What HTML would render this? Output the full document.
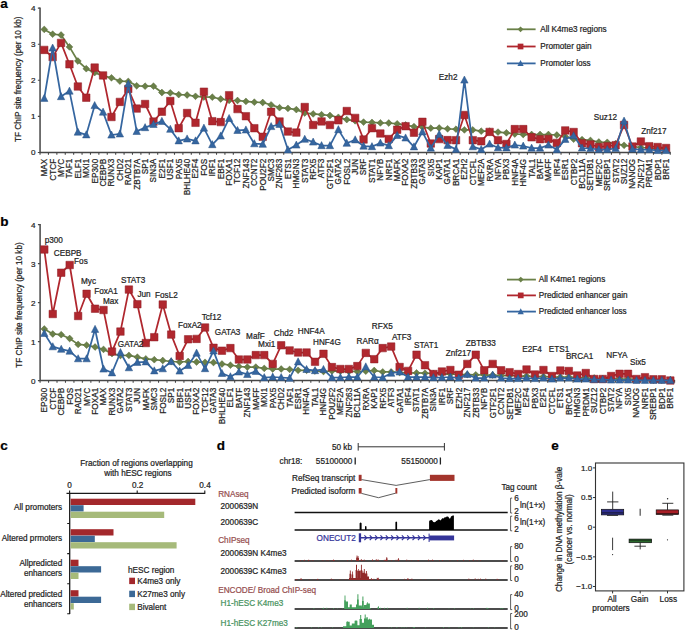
<!DOCTYPE html><html><head><meta charset="utf-8"><style>html,body{margin:0;padding:0;background:#fff;}svg{display:block;font-family:"Liberation Sans",sans-serif;}text{stroke:#1e1e1e;stroke-width:0.22px;}</style></head><body>
<svg width="685" height="632" viewBox="0 0 685 632">
<rect width="685" height="632" fill="#fff"/>
<g font-size="8.2" fill="#1e1e1e">
<text x="0.3" y="7.5" font-size="13.5" fill="#000" style="stroke:#000" font-weight="bold">a</text>
<path d="M40.05 7.6V152.5H670.77" fill="none" stroke="#474747" stroke-width="1.5"/>
<text x="35.55" y="155.4" font-size="8.1" text-anchor="end">0</text>
<text x="35.55" y="119.3" font-size="8.1" text-anchor="end">1</text>
<text x="35.55" y="83.2" font-size="8.1" text-anchor="end">2</text>
<text x="35.55" y="47.1" font-size="8.1" text-anchor="end">3</text>
<text x="35.55" y="11" font-size="8.1" text-anchor="end">4</text>
<path d="M37.85 152.5H40.05M37.85 116.4H40.05M37.85 80.3H40.05M37.85 44.2H40.05M37.85 8.1H40.05M40.05 152.5v2.2M48.45 152.5v2.2M56.86 152.5v2.2M65.26 152.5v2.2M73.66 152.5v2.2M82.06 152.5v2.2M90.47 152.5v2.2M98.87 152.5v2.2M107.27 152.5v2.2M115.68 152.5v2.2M124.08 152.5v2.2M132.48 152.5v2.2M140.89 152.5v2.2M149.29 152.5v2.2M157.69 152.5v2.2M166.09 152.5v2.2M174.5 152.5v2.2M182.9 152.5v2.2M191.3 152.5v2.2M199.71 152.5v2.2M208.11 152.5v2.2M216.51 152.5v2.2M224.92 152.5v2.2M233.32 152.5v2.2M241.72 152.5v2.2M250.12 152.5v2.2M258.53 152.5v2.2M266.93 152.5v2.2M275.33 152.5v2.2M283.74 152.5v2.2M292.14 152.5v2.2M300.54 152.5v2.2M308.95 152.5v2.2M317.35 152.5v2.2M325.75 152.5v2.2M334.16 152.5v2.2M342.56 152.5v2.2M350.96 152.5v2.2M359.36 152.5v2.2M367.77 152.5v2.2M376.17 152.5v2.2M384.57 152.5v2.2M392.98 152.5v2.2M401.38 152.5v2.2M409.78 152.5v2.2M418.19 152.5v2.2M426.59 152.5v2.2M434.99 152.5v2.2M443.39 152.5v2.2M451.8 152.5v2.2M460.2 152.5v2.2M468.6 152.5v2.2M477.01 152.5v2.2M485.41 152.5v2.2M493.81 152.5v2.2M502.22 152.5v2.2M510.62 152.5v2.2M519.02 152.5v2.2M527.42 152.5v2.2M535.83 152.5v2.2M544.23 152.5v2.2M552.63 152.5v2.2M561.04 152.5v2.2M569.44 152.5v2.2M577.84 152.5v2.2M586.25 152.5v2.2M594.65 152.5v2.2M603.05 152.5v2.2M611.45 152.5v2.2M619.86 152.5v2.2M628.26 152.5v2.2M636.66 152.5v2.2M645.07 152.5v2.2M653.47 152.5v2.2M661.87 152.5v2.2M670.27 152.5v2.2" stroke="#474747" stroke-width="1.1"/>
<polyline points="44.25,29.4 52.65,34.2 61.06,35 69.46,46.9 77.86,61 86.27,68.7 94.67,72.6 103.07,75.9 111.47,77.8 119.88,81.1 128.28,81.4 136.68,85.8 145.09,86.2 153.49,86.2 161.89,92.5 170.3,92.8 178.7,94.6 187.1,95 195.5,96.3 203.91,97 212.31,97.2 220.71,99 229.12,100.4 237.52,100.5 245.92,101.4 254.33,102.2 262.73,102.5 271.13,104.9 279.53,107.7 287.94,108.4 296.34,109.6 304.74,113 313.15,113.9 321.55,114.7 329.95,115.5 338.36,117.3 346.76,119.6 355.16,120.8 363.56,122.1 371.97,122.4 380.37,122.9 388.77,123 397.18,123.8 405.58,125 413.98,126.6 422.39,127.2 430.79,128.2 439.19,128 447.59,128.8 456,129.2 464.4,129.9 472.8,129.9 481.21,131.2 489.61,131.2 498.01,132.1 506.42,132.8 514.82,134 523.22,134.5 531.62,134.5 540.03,134.5 548.43,134.5 556.83,135 565.24,136.5 573.64,139.2 582.04,139.6 590.45,140.4 598.85,142 607.25,142.3 615.65,143.6 624.06,145.3 632.46,146.5 640.86,147.5 649.27,148 657.67,148.5 666.07,149" fill="none" stroke="#6a8048" stroke-width="1.75" stroke-linejoin="round"/>
<path d="M44.25 26L47.65 29.4L44.25 32.8L40.85 29.4ZM52.65 30.8L56.05 34.2L52.65 37.6L49.25 34.2ZM61.06 31.6L64.46 35L61.06 38.4L57.66 35ZM69.46 43.5L72.86 46.9L69.46 50.3L66.06 46.9ZM77.86 57.6L81.26 61L77.86 64.4L74.46 61ZM86.27 65.3L89.67 68.7L86.27 72.1L82.86 68.7ZM94.67 69.2L98.07 72.6L94.67 76L91.27 72.6ZM103.07 72.5L106.47 75.9L103.07 79.3L99.67 75.9ZM111.47 74.4L114.87 77.8L111.47 81.2L108.07 77.8ZM119.88 77.7L123.28 81.1L119.88 84.5L116.48 81.1ZM128.28 78L131.68 81.4L128.28 84.8L124.88 81.4ZM136.68 82.4L140.08 85.8L136.68 89.2L133.28 85.8ZM145.09 82.8L148.49 86.2L145.09 89.6L141.69 86.2ZM153.49 82.8L156.89 86.2L153.49 89.6L150.09 86.2ZM161.89 89.1L165.29 92.5L161.89 95.9L158.49 92.5ZM170.3 89.4L173.7 92.8L170.3 96.2L166.9 92.8ZM178.7 91.2L182.1 94.6L178.7 98L175.3 94.6ZM187.1 91.6L190.5 95L187.1 98.4L183.7 95ZM195.5 92.9L198.9 96.3L195.5 99.7L192.1 96.3ZM203.91 93.6L207.31 97L203.91 100.4L200.51 97ZM212.31 93.8L215.71 97.2L212.31 100.6L208.91 97.2ZM220.71 95.6L224.11 99L220.71 102.4L217.31 99ZM229.12 97L232.52 100.4L229.12 103.8L225.72 100.4ZM237.52 97.1L240.92 100.5L237.52 103.9L234.12 100.5ZM245.92 98L249.32 101.4L245.92 104.8L242.52 101.4ZM254.33 98.8L257.73 102.2L254.33 105.6L250.93 102.2ZM262.73 99.1L266.13 102.5L262.73 105.9L259.33 102.5ZM271.13 101.5L274.53 104.9L271.13 108.3L267.73 104.9ZM279.53 104.3L282.93 107.7L279.53 111.1L276.13 107.7ZM287.94 105L291.34 108.4L287.94 111.8L284.54 108.4ZM296.34 106.2L299.74 109.6L296.34 113L292.94 109.6ZM304.74 109.6L308.14 113L304.74 116.4L301.34 113ZM313.15 110.5L316.55 113.9L313.15 117.3L309.75 113.9ZM321.55 111.3L324.95 114.7L321.55 118.1L318.15 114.7ZM329.95 112.1L333.35 115.5L329.95 118.9L326.55 115.5ZM338.36 113.9L341.75 117.3L338.36 120.7L334.96 117.3ZM346.76 116.2L350.16 119.6L346.76 123L343.36 119.6ZM355.16 117.4L358.56 120.8L355.16 124.2L351.76 120.8ZM363.56 118.7L366.96 122.1L363.56 125.5L360.16 122.1ZM371.97 119L375.37 122.4L371.97 125.8L368.57 122.4ZM380.37 119.5L383.77 122.9L380.37 126.3L376.97 122.9ZM388.77 119.6L392.17 123L388.77 126.4L385.37 123ZM397.18 120.4L400.58 123.8L397.18 127.2L393.78 123.8ZM405.58 121.6L408.98 125L405.58 128.4L402.18 125ZM413.98 123.2L417.38 126.6L413.98 130L410.58 126.6ZM422.39 123.8L425.79 127.2L422.39 130.6L418.99 127.2ZM430.79 124.8L434.19 128.2L430.79 131.6L427.39 128.2ZM439.19 124.6L442.59 128L439.19 131.4L435.79 128ZM447.59 125.4L450.99 128.8L447.59 132.2L444.19 128.8ZM456 125.8L459.4 129.2L456 132.6L452.6 129.2ZM464.4 126.5L467.8 129.9L464.4 133.3L461 129.9ZM472.8 126.5L476.2 129.9L472.8 133.3L469.4 129.9ZM481.21 127.8L484.61 131.2L481.21 134.6L477.81 131.2ZM489.61 127.8L493.01 131.2L489.61 134.6L486.21 131.2ZM498.01 128.7L501.41 132.1L498.01 135.5L494.61 132.1ZM506.42 129.4L509.81 132.8L506.42 136.2L503.02 132.8ZM514.82 130.6L518.22 134L514.82 137.4L511.42 134ZM523.22 131.1L526.62 134.5L523.22 137.9L519.82 134.5ZM531.62 131.1L535.02 134.5L531.62 137.9L528.22 134.5ZM540.03 131.1L543.43 134.5L540.03 137.9L536.63 134.5ZM548.43 131.1L551.83 134.5L548.43 137.9L545.03 134.5ZM556.83 131.6L560.23 135L556.83 138.4L553.43 135ZM565.24 133.1L568.64 136.5L565.24 139.9L561.84 136.5ZM573.64 135.8L577.04 139.2L573.64 142.6L570.24 139.2ZM582.04 136.2L585.44 139.6L582.04 143L578.64 139.6ZM590.45 137L593.85 140.4L590.45 143.8L587.05 140.4ZM598.85 138.6L602.25 142L598.85 145.4L595.45 142ZM607.25 138.9L610.65 142.3L607.25 145.7L603.85 142.3ZM615.65 140.2L619.05 143.6L615.65 147L612.25 143.6ZM624.06 141.9L627.46 145.3L624.06 148.7L620.66 145.3ZM632.46 143.1L635.86 146.5L632.46 149.9L629.06 146.5ZM640.86 144.1L644.26 147.5L640.86 150.9L637.46 147.5ZM649.27 144.6L652.67 148L649.27 151.4L645.87 148ZM657.67 145.1L661.07 148.5L657.67 151.9L654.27 148.5ZM666.07 145.6L669.47 149L666.07 152.4L662.67 149Z" fill="#6a8048" stroke="#56693a" stroke-width="0.5"/>
<polyline points="44.25,49.9 52.65,57.1 61.06,42.9 69.46,64.3 77.86,86.5 86.27,97.7 94.67,67.6 103.07,75.4 111.47,117 119.88,101.9 128.28,89 136.68,108.6 145.09,104 153.49,121.6 161.89,111.7 170.3,101 178.7,128.2 187.1,113 195.5,122.8 203.91,91.7 212.31,121.2 220.71,122.1 229.12,95.2 237.52,109.1 245.92,116.2 254.33,128.2 262.73,136.8 271.13,111.8 279.53,121.5 287.94,131.6 296.34,132.6 304.74,107 313.15,125 321.55,121.4 329.95,125 338.36,120.3 346.76,111 355.16,117.9 363.56,139.5 371.97,128.2 380.37,133.5 388.77,139 397.18,129.7 405.58,126.2 413.98,132.7 422.39,121.8 430.79,143.5 439.19,139.1 447.59,140.1 456,140.2 464.4,115 472.8,140.2 481.21,141.3 489.61,131.9 498.01,140.2 506.42,144 514.82,129.1 523.22,129.1 531.62,137.3 540.03,139.2 548.43,138.9 556.83,142.9 565.24,130.4 573.64,132 582.04,143.2 590.45,144.5 598.85,147 607.25,146.2 615.65,145.2 624.06,125 632.46,146.5 640.86,141.5 649.27,146.2 657.67,147 666.07,148" fill="none" stroke="#b0272e" stroke-width="1.75" stroke-linejoin="round"/>
<path d="M40.5 46.15h7.5v7.5h-7.5ZM48.9 53.35h7.5v7.5h-7.5ZM57.31 39.15h7.5v7.5h-7.5ZM65.71 60.55h7.5v7.5h-7.5ZM74.11 82.75h7.5v7.5h-7.5ZM82.52 93.95h7.5v7.5h-7.5ZM90.92 63.85h7.5v7.5h-7.5ZM99.32 71.65h7.5v7.5h-7.5ZM107.72 113.25h7.5v7.5h-7.5ZM116.13 98.15h7.5v7.5h-7.5ZM124.53 85.25h7.5v7.5h-7.5ZM132.93 104.85h7.5v7.5h-7.5ZM141.34 100.25h7.5v7.5h-7.5ZM149.74 117.85h7.5v7.5h-7.5ZM158.14 107.95h7.5v7.5h-7.5ZM166.55 97.25h7.5v7.5h-7.5ZM174.95 124.45h7.5v7.5h-7.5ZM183.35 109.25h7.5v7.5h-7.5ZM191.75 119.05h7.5v7.5h-7.5ZM200.16 87.95h7.5v7.5h-7.5ZM208.56 117.45h7.5v7.5h-7.5ZM216.96 118.35h7.5v7.5h-7.5ZM225.37 91.45h7.5v7.5h-7.5ZM233.77 105.35h7.5v7.5h-7.5ZM242.17 112.45h7.5v7.5h-7.5ZM250.58 124.45h7.5v7.5h-7.5ZM258.98 133.05h7.5v7.5h-7.5ZM267.38 108.05h7.5v7.5h-7.5ZM275.78 117.75h7.5v7.5h-7.5ZM284.19 127.85h7.5v7.5h-7.5ZM292.59 128.85h7.5v7.5h-7.5ZM300.99 103.25h7.5v7.5h-7.5ZM309.4 121.25h7.5v7.5h-7.5ZM317.8 117.65h7.5v7.5h-7.5ZM326.2 121.25h7.5v7.5h-7.5ZM334.61 116.55h7.5v7.5h-7.5ZM343.01 107.25h7.5v7.5h-7.5ZM351.41 114.15h7.5v7.5h-7.5ZM359.81 135.75h7.5v7.5h-7.5ZM368.22 124.45h7.5v7.5h-7.5ZM376.62 129.75h7.5v7.5h-7.5ZM385.02 135.25h7.5v7.5h-7.5ZM393.43 125.95h7.5v7.5h-7.5ZM401.83 122.45h7.5v7.5h-7.5ZM410.23 128.95h7.5v7.5h-7.5ZM418.64 118.05h7.5v7.5h-7.5ZM427.04 139.75h7.5v7.5h-7.5ZM435.44 135.35h7.5v7.5h-7.5ZM443.84 136.35h7.5v7.5h-7.5ZM452.25 136.45h7.5v7.5h-7.5ZM460.65 111.25h7.5v7.5h-7.5ZM469.05 136.45h7.5v7.5h-7.5ZM477.46 137.55h7.5v7.5h-7.5ZM485.86 128.15h7.5v7.5h-7.5ZM494.26 136.45h7.5v7.5h-7.5ZM502.67 140.25h7.5v7.5h-7.5ZM511.07 125.35h7.5v7.5h-7.5ZM519.47 125.35h7.5v7.5h-7.5ZM527.87 133.55h7.5v7.5h-7.5ZM536.28 135.45h7.5v7.5h-7.5ZM544.68 135.15h7.5v7.5h-7.5ZM553.08 139.15h7.5v7.5h-7.5ZM561.49 126.65h7.5v7.5h-7.5ZM569.89 128.25h7.5v7.5h-7.5ZM578.29 139.45h7.5v7.5h-7.5ZM586.7 140.75h7.5v7.5h-7.5ZM595.1 143.25h7.5v7.5h-7.5ZM603.5 142.45h7.5v7.5h-7.5ZM611.9 141.45h7.5v7.5h-7.5ZM620.31 121.25h7.5v7.5h-7.5ZM628.71 142.75h7.5v7.5h-7.5ZM637.11 137.75h7.5v7.5h-7.5ZM645.52 142.45h7.5v7.5h-7.5ZM653.92 143.25h7.5v7.5h-7.5ZM662.32 144.25h7.5v7.5h-7.5Z" fill="#b0272e" stroke="#8c1c24" stroke-width="0.5"/>
<polyline points="44.25,98.3 52.65,48 61.06,96.6 69.46,91.1 77.86,132.1 86.27,134.8 94.67,105.5 103.07,112.1 111.47,135 119.88,133.9 128.28,84 136.68,131.4 145.09,127.6 153.49,124.4 161.89,121.3 170.3,129.2 178.7,140.8 187.1,138.9 195.5,140.8 203.91,128.1 212.31,144.6 220.71,135.9 229.12,118.4 237.52,130.4 245.92,129.9 254.33,143.7 262.73,144.2 271.13,126.5 279.53,124.3 287.94,149.8 296.34,145 304.74,139.2 313.15,142 321.55,145.6 329.95,145.6 338.36,129.6 346.76,143.2 355.16,139.8 363.56,146.1 371.97,146.6 380.37,143 388.77,145.6 397.18,135.4 405.58,137.9 413.98,146.8 422.39,131.8 430.79,148.1 439.19,134.3 447.59,145.3 456,149.4 464.4,80 472.8,146.7 481.21,149.4 489.61,144 498.01,147.7 506.42,147.8 514.82,145 523.22,146 531.62,148.1 540.03,148.1 548.43,145 556.83,149.6 565.24,139.3 573.64,135.7 582.04,148 590.45,148.5 598.85,149.5 607.25,149.5 615.65,148.5 624.06,121 632.46,149 640.86,149.6 649.27,149.6 657.67,150.5 666.07,150.5" fill="none" stroke="#3566a0" stroke-width="1.75" stroke-linejoin="round"/>
<path d="M44.25 94.3L47.95 101.4L40.55 101.4ZM52.65 44L56.35 51.1L48.95 51.1ZM61.06 92.6L64.76 99.7L57.36 99.7ZM69.46 87.1L73.16 94.2L65.76 94.2ZM77.86 128.1L81.56 135.2L74.16 135.2ZM86.27 130.8L89.97 137.9L82.56 137.9ZM94.67 101.5L98.37 108.6L90.97 108.6ZM103.07 108.1L106.77 115.2L99.37 115.2ZM111.47 131L115.17 138.1L107.77 138.1ZM119.88 129.9L123.58 137L116.18 137ZM128.28 80L131.98 87.1L124.58 87.1ZM136.68 127.4L140.38 134.5L132.98 134.5ZM145.09 123.6L148.79 130.7L141.39 130.7ZM153.49 120.4L157.19 127.5L149.79 127.5ZM161.89 117.3L165.59 124.4L158.19 124.4ZM170.3 125.2L174 132.3L166.6 132.3ZM178.7 136.8L182.4 143.9L175 143.9ZM187.1 134.9L190.8 142L183.4 142ZM195.5 136.8L199.2 143.9L191.8 143.9ZM203.91 124.1L207.61 131.2L200.21 131.2ZM212.31 140.6L216.01 147.7L208.61 147.7ZM220.71 131.9L224.41 139L217.01 139ZM229.12 114.4L232.82 121.5L225.42 121.5ZM237.52 126.4L241.22 133.5L233.82 133.5ZM245.92 125.9L249.62 133L242.22 133ZM254.33 139.7L258.03 146.8L250.63 146.8ZM262.73 140.2L266.43 147.3L259.03 147.3ZM271.13 122.5L274.83 129.6L267.43 129.6ZM279.53 120.3L283.23 127.4L275.83 127.4ZM287.94 145.8L291.64 152.9L284.24 152.9ZM296.34 141L300.04 148.1L292.64 148.1ZM304.74 135.2L308.44 142.3L301.04 142.3ZM313.15 138L316.85 145.1L309.45 145.1ZM321.55 141.6L325.25 148.7L317.85 148.7ZM329.95 141.6L333.65 148.7L326.25 148.7ZM338.36 125.6L342.06 132.7L334.66 132.7ZM346.76 139.2L350.46 146.3L343.06 146.3ZM355.16 135.8L358.86 142.9L351.46 142.9ZM363.56 142.1L367.26 149.2L359.86 149.2ZM371.97 142.6L375.67 149.7L368.27 149.7ZM380.37 139L384.07 146.1L376.67 146.1ZM388.77 141.6L392.47 148.7L385.07 148.7ZM397.18 131.4L400.88 138.5L393.48 138.5ZM405.58 133.9L409.28 141L401.88 141ZM413.98 142.8L417.68 149.9L410.28 149.9ZM422.39 127.8L426.09 134.9L418.69 134.9ZM430.79 144.1L434.49 151.2L427.09 151.2ZM439.19 130.3L442.89 137.4L435.49 137.4ZM447.59 141.3L451.29 148.4L443.89 148.4ZM456 145.4L459.7 152.5L452.3 152.5ZM464.4 76L468.1 83.1L460.7 83.1ZM472.8 142.7L476.5 149.8L469.1 149.8ZM481.21 145.4L484.91 152.5L477.51 152.5ZM489.61 140L493.31 147.1L485.91 147.1ZM498.01 143.7L501.71 150.8L494.31 150.8ZM506.42 143.8L510.12 150.9L502.72 150.9ZM514.82 141L518.52 148.1L511.12 148.1ZM523.22 142L526.92 149.1L519.52 149.1ZM531.62 144.1L535.32 151.2L527.92 151.2ZM540.03 144.1L543.73 151.2L536.33 151.2ZM548.43 141L552.13 148.1L544.73 148.1ZM556.83 145.6L560.53 152.7L553.13 152.7ZM565.24 135.3L568.94 142.4L561.54 142.4ZM573.64 131.7L577.34 138.8L569.94 138.8ZM582.04 144L585.74 151.1L578.34 151.1ZM590.45 144.5L594.15 151.6L586.75 151.6ZM598.85 145.5L602.55 152.6L595.15 152.6ZM607.25 145.5L610.95 152.6L603.55 152.6ZM615.65 144.5L619.35 151.6L611.95 151.6ZM624.06 117L627.76 124.1L620.36 124.1ZM632.46 145L636.16 152.1L628.76 152.1ZM640.86 145.6L644.56 152.7L637.16 152.7ZM649.27 145.6L652.97 152.7L645.57 152.7ZM657.67 146.5L661.37 153.6L653.97 153.6ZM666.07 146.5L669.77 153.6L662.37 153.6Z" fill="#3566a0" stroke="#2a5384" stroke-width="0.5"/>
<text transform="translate(47.15 158.8) rotate(-90)" text-anchor="end">MAX</text>
<text transform="translate(55.55 158.8) rotate(-90)" text-anchor="end">CTCF</text>
<text transform="translate(63.96 158.8) rotate(-90)" text-anchor="end">MYC</text>
<text transform="translate(72.36 158.8) rotate(-90)" text-anchor="end">TAF1</text>
<text transform="translate(80.76 158.8) rotate(-90)" text-anchor="end">ELF1</text>
<text transform="translate(89.17 158.8) rotate(-90)" text-anchor="end">MXI1</text>
<text transform="translate(97.57 158.8) rotate(-90)" text-anchor="end">EP300</text>
<text transform="translate(105.97 158.8) rotate(-90)" text-anchor="end">CEBPB</text>
<text transform="translate(114.37 158.8) rotate(-90)" text-anchor="end">RUNX3</text>
<text transform="translate(122.78 158.8) rotate(-90)" text-anchor="end">CHD2</text>
<text transform="translate(131.18 158.8) rotate(-90)" text-anchor="end">RAD21</text>
<text transform="translate(139.58 158.8) rotate(-90)" text-anchor="end">ZBTB7A</text>
<text transform="translate(147.99 158.8) rotate(-90)" text-anchor="end">SP1</text>
<text transform="translate(156.39 158.8) rotate(-90)" text-anchor="end">SIN3A</text>
<text transform="translate(164.79 158.8) rotate(-90)" text-anchor="end">E2F1</text>
<text transform="translate(173.2 158.8) rotate(-90)" text-anchor="end">USF1</text>
<text transform="translate(181.6 158.8) rotate(-90)" text-anchor="end">PAX5</text>
<text transform="translate(190 158.8) rotate(-90)" text-anchor="end">BHLHE40</text>
<text transform="translate(198.4 158.8) rotate(-90)" text-anchor="end">E2F4</text>
<text transform="translate(206.81 158.8) rotate(-90)" text-anchor="end">FOS</text>
<text transform="translate(215.21 158.8) rotate(-90)" text-anchor="end">IRF1</text>
<text transform="translate(223.61 158.8) rotate(-90)" text-anchor="end">EBF1</text>
<text transform="translate(232.02 158.8) rotate(-90)" text-anchor="end">FOXA1</text>
<text transform="translate(240.42 158.8) rotate(-90)" text-anchor="end">TCF12</text>
<text transform="translate(248.82 158.8) rotate(-90)" text-anchor="end">ZNF143</text>
<text transform="translate(257.23 158.8) rotate(-90)" text-anchor="end">CCNT2</text>
<text transform="translate(265.63 158.8) rotate(-90)" text-anchor="end">POU2F2</text>
<text transform="translate(274.03 158.8) rotate(-90)" text-anchor="end">SMC3</text>
<text transform="translate(282.43 158.8) rotate(-90)" text-anchor="end">ZNF263</text>
<text transform="translate(290.84 158.8) rotate(-90)" text-anchor="end">ETS1</text>
<text transform="translate(299.24 158.8) rotate(-90)" text-anchor="end">HMGN3</text>
<text transform="translate(307.64 158.8) rotate(-90)" text-anchor="end">STAT3</text>
<text transform="translate(316.05 158.8) rotate(-90)" text-anchor="end">RFX5</text>
<text transform="translate(324.45 158.8) rotate(-90)" text-anchor="end">ATF3</text>
<text transform="translate(332.85 158.8) rotate(-90)" text-anchor="end">GTF2F1</text>
<text transform="translate(341.25 158.8) rotate(-90)" text-anchor="end">GATA2</text>
<text transform="translate(349.66 158.8) rotate(-90)" text-anchor="end">FOSL2</text>
<text transform="translate(358.06 158.8) rotate(-90)" text-anchor="end">JUN</text>
<text transform="translate(366.46 158.8) rotate(-90)" text-anchor="end">SRF</text>
<text transform="translate(374.87 158.8) rotate(-90)" text-anchor="end">STAT1</text>
<text transform="translate(383.27 158.8) rotate(-90)" text-anchor="end">NFYB</text>
<text transform="translate(391.67 158.8) rotate(-90)" text-anchor="end">NRF1</text>
<text transform="translate(400.08 158.8) rotate(-90)" text-anchor="end">MAFK</text>
<text transform="translate(408.48 158.8) rotate(-90)" text-anchor="end">FOXA2</text>
<text transform="translate(416.88 158.8) rotate(-90)" text-anchor="end">ZBTB33</text>
<text transform="translate(425.29 158.8) rotate(-90)" text-anchor="end">GATA3</text>
<text transform="translate(433.69 158.8) rotate(-90)" text-anchor="end">SIX5</text>
<text transform="translate(442.09 158.8) rotate(-90)" text-anchor="end">KAP1</text>
<text transform="translate(450.49 158.8) rotate(-90)" text-anchor="end">GATA1</text>
<text transform="translate(458.9 158.8) rotate(-90)" text-anchor="end">BRCA1</text>
<text transform="translate(467.3 158.8) rotate(-90)" text-anchor="end">EZH2</text>
<text transform="translate(475.7 158.8) rotate(-90)" text-anchor="end">CTCFL</text>
<text transform="translate(484.11 158.8) rotate(-90)" text-anchor="end">MEF2A</text>
<text transform="translate(492.51 158.8) rotate(-90)" text-anchor="end">RXRA</text>
<text transform="translate(500.91 158.8) rotate(-90)" text-anchor="end">NFYA</text>
<text transform="translate(509.31 158.8) rotate(-90)" text-anchor="end">PBX3</text>
<text transform="translate(517.72 158.8) rotate(-90)" text-anchor="end">HNF4A</text>
<text transform="translate(526.12 158.8) rotate(-90)" text-anchor="end">HNF4G</text>
<text transform="translate(534.52 158.8) rotate(-90)" text-anchor="end">TAL1</text>
<text transform="translate(542.93 158.8) rotate(-90)" text-anchor="end">BATF</text>
<text transform="translate(551.33 158.8) rotate(-90)" text-anchor="end">MAFF</text>
<text transform="translate(559.73 158.8) rotate(-90)" text-anchor="end">IRF4</text>
<text transform="translate(568.14 158.8) rotate(-90)" text-anchor="end">ESR1</text>
<text transform="translate(576.54 158.8) rotate(-90)" text-anchor="end">CTBP2</text>
<text transform="translate(584.94 158.8) rotate(-90)" text-anchor="end">BCL11A</text>
<text transform="translate(593.35 158.8) rotate(-90)" text-anchor="end">SETDB1</text>
<text transform="translate(601.75 158.8) rotate(-90)" text-anchor="end">MEF2C</text>
<text transform="translate(610.15 158.8) rotate(-90)" text-anchor="end">SREBP1</text>
<text transform="translate(618.55 158.8) rotate(-90)" text-anchor="end">STAT2</text>
<text transform="translate(626.96 158.8) rotate(-90)" text-anchor="end">SUZ12</text>
<text transform="translate(635.36 158.8) rotate(-90)" text-anchor="end">NANOG</text>
<text transform="translate(643.76 158.8) rotate(-90)" text-anchor="end">ZNF217</text>
<text transform="translate(652.17 158.8) rotate(-90)" text-anchor="end">PRDM1</text>
<text transform="translate(660.57 158.8) rotate(-90)" text-anchor="end">BDP1</text>
<text transform="translate(668.97 158.8) rotate(-90)" text-anchor="end">BRF1</text>
<text transform="translate(20.5 79.2) rotate(-90)" text-anchor="middle">TF ChIP site frequency (per 10 kb)</text>
<text x="438.8" y="80">Ezh2</text>
<text x="593.8" y="119.8">Suz12</text>
<text x="641.2" y="134">Znf217</text>
<path d="M506.9 29.3H535.6" stroke="#6a8048" stroke-width="1.8"/>
<path d="M520.55 26.4l2.9 2.9l-2.9 2.9l-2.9 -2.9Z" fill="#6a8048"/>
<text x="540.2" y="31.5">All K4me3 regions</text>
<path d="M506.9 46.5H535.6" stroke="#b0272e" stroke-width="1.8"/>
<rect x="517.7" y="43.65" width="5.7" height="5.7" fill="#b0272e"/>
<text x="540.2" y="49.1">Promoter gain</text>
<path d="M506.9 63.4H535.6" stroke="#3566a0" stroke-width="1.8"/>
<path d="M520.55 60l3.1 6h-6.2Z" fill="#3566a0"/>
<text x="540.2" y="66.3">Promoter loss</text>
<text x="0.3" y="225.5" font-size="13.5" fill="#000" style="stroke:#000" font-weight="bold">b</text>
<path d="M40.1 224.1V380.6H675.1" fill="none" stroke="#474747" stroke-width="1.5"/>
<text x="35.6" y="383.5" font-size="8.1" text-anchor="end">0</text>
<text x="35.6" y="344.5" font-size="8.1" text-anchor="end">1</text>
<text x="35.6" y="305.5" font-size="8.1" text-anchor="end">2</text>
<text x="35.6" y="266.5" font-size="8.1" text-anchor="end">3</text>
<text x="35.6" y="227.5" font-size="8.1" text-anchor="end">4</text>
<path d="M37.9 380.6H40.1M37.9 341.6H40.1M37.9 302.6H40.1M37.9 263.6H40.1M37.9 224.6H40.1M40.1 380.6v2.2M48.56 380.6v2.2M57.02 380.6v2.2M65.48 380.6v2.2M73.94 380.6v2.2M82.4 380.6v2.2M90.86 380.6v2.2M99.32 380.6v2.2M107.78 380.6v2.2M116.24 380.6v2.2M124.7 380.6v2.2M133.16 380.6v2.2M141.62 380.6v2.2M150.08 380.6v2.2M158.54 380.6v2.2M167 380.6v2.2M175.46 380.6v2.2M183.92 380.6v2.2M192.38 380.6v2.2M200.84 380.6v2.2M209.3 380.6v2.2M217.76 380.6v2.2M226.22 380.6v2.2M234.68 380.6v2.2M243.14 380.6v2.2M251.6 380.6v2.2M260.06 380.6v2.2M268.52 380.6v2.2M276.98 380.6v2.2M285.44 380.6v2.2M293.9 380.6v2.2M302.36 380.6v2.2M310.82 380.6v2.2M319.28 380.6v2.2M327.74 380.6v2.2M336.2 380.6v2.2M344.66 380.6v2.2M353.12 380.6v2.2M361.58 380.6v2.2M370.04 380.6v2.2M378.5 380.6v2.2M386.96 380.6v2.2M395.42 380.6v2.2M403.88 380.6v2.2M412.34 380.6v2.2M420.8 380.6v2.2M429.26 380.6v2.2M437.72 380.6v2.2M446.18 380.6v2.2M454.64 380.6v2.2M463.1 380.6v2.2M471.56 380.6v2.2M480.02 380.6v2.2M488.48 380.6v2.2M496.94 380.6v2.2M505.4 380.6v2.2M513.86 380.6v2.2M522.32 380.6v2.2M530.78 380.6v2.2M539.24 380.6v2.2M547.7 380.6v2.2M556.16 380.6v2.2M564.62 380.6v2.2M573.08 380.6v2.2M581.54 380.6v2.2M590 380.6v2.2M598.46 380.6v2.2M606.92 380.6v2.2M615.38 380.6v2.2M623.84 380.6v2.2M632.3 380.6v2.2M640.76 380.6v2.2M649.22 380.6v2.2M657.68 380.6v2.2M666.14 380.6v2.2M674.6 380.6v2.2" stroke="#474747" stroke-width="1.1"/>
<polyline points="44.3,329 52.76,334 61.22,334.7 69.68,338.5 78.14,344.4 86.6,345.2 95.06,347 103.52,349.4 111.98,353.5 120.44,355.5 128.9,355.4 137.36,357.2 145.82,358.9 154.28,359.7 162.74,360.5 171.2,361.5 179.66,362 188.12,361.5 196.58,362 205.04,362.3 213.5,362.5 221.96,364 230.42,365.2 238.88,366.5 247.34,367.1 255.8,367.1 264.26,368.4 272.72,369 281.18,369 289.64,369.4 298.1,370.3 306.56,370.3 315.02,371 323.48,371.5 331.94,371 340.4,371.2 348.86,371.4 357.32,371.5 365.78,371.2 374.24,370.5 382.7,371.9 391.16,371.9 399.62,372.5 408.08,373 416.54,372.9 425,373.2 433.46,373.5 441.92,374 450.38,374 458.84,374.5 467.3,374.5 475.76,374.8 484.22,375 492.68,375 501.14,375.5 509.6,375.5 518.06,376 526.52,376 534.98,376.5 543.44,376.5 551.9,377 560.36,377 568.82,377 577.28,377.5 585.74,378 594.2,378 602.66,378.5 611.12,378.5 619.58,379 628.04,379 636.5,379.5 644.96,379.5 653.42,380 661.88,380 670.34,380" fill="none" stroke="#6a8048" stroke-width="1.75" stroke-linejoin="round"/>
<path d="M44.3 325.6L47.7 329L44.3 332.4L40.9 329ZM52.76 330.6L56.16 334L52.76 337.4L49.36 334ZM61.22 331.3L64.62 334.7L61.22 338.1L57.82 334.7ZM69.68 335.1L73.08 338.5L69.68 341.9L66.28 338.5ZM78.14 341L81.54 344.4L78.14 347.8L74.74 344.4ZM86.6 341.8L90 345.2L86.6 348.6L83.2 345.2ZM95.06 343.6L98.46 347L95.06 350.4L91.66 347ZM103.52 346L106.92 349.4L103.52 352.8L100.12 349.4ZM111.98 350.1L115.38 353.5L111.98 356.9L108.58 353.5ZM120.44 352.1L123.84 355.5L120.44 358.9L117.04 355.5ZM128.9 352L132.3 355.4L128.9 358.8L125.5 355.4ZM137.36 353.8L140.76 357.2L137.36 360.6L133.96 357.2ZM145.82 355.5L149.22 358.9L145.82 362.3L142.42 358.9ZM154.28 356.3L157.68 359.7L154.28 363.1L150.88 359.7ZM162.74 357.1L166.14 360.5L162.74 363.9L159.34 360.5ZM171.2 358.1L174.6 361.5L171.2 364.9L167.8 361.5ZM179.66 358.6L183.06 362L179.66 365.4L176.26 362ZM188.12 358.1L191.52 361.5L188.12 364.9L184.72 361.5ZM196.58 358.6L199.98 362L196.58 365.4L193.18 362ZM205.04 358.9L208.44 362.3L205.04 365.7L201.64 362.3ZM213.5 359.1L216.9 362.5L213.5 365.9L210.1 362.5ZM221.96 360.6L225.36 364L221.96 367.4L218.56 364ZM230.42 361.8L233.82 365.2L230.42 368.6L227.02 365.2ZM238.88 363.1L242.28 366.5L238.88 369.9L235.48 366.5ZM247.34 363.7L250.74 367.1L247.34 370.5L243.94 367.1ZM255.8 363.7L259.2 367.1L255.8 370.5L252.4 367.1ZM264.26 365L267.66 368.4L264.26 371.8L260.86 368.4ZM272.72 365.6L276.12 369L272.72 372.4L269.32 369ZM281.18 365.6L284.58 369L281.18 372.4L277.78 369ZM289.64 366L293.04 369.4L289.64 372.8L286.24 369.4ZM298.1 366.9L301.5 370.3L298.1 373.7L294.7 370.3ZM306.56 366.9L309.96 370.3L306.56 373.7L303.16 370.3ZM315.02 367.6L318.42 371L315.02 374.4L311.62 371ZM323.48 368.1L326.88 371.5L323.48 374.9L320.08 371.5ZM331.94 367.6L335.34 371L331.94 374.4L328.54 371ZM340.4 367.8L343.8 371.2L340.4 374.6L337 371.2ZM348.86 368L352.26 371.4L348.86 374.8L345.46 371.4ZM357.32 368.1L360.72 371.5L357.32 374.9L353.92 371.5ZM365.78 367.8L369.18 371.2L365.78 374.6L362.38 371.2ZM374.24 367.1L377.64 370.5L374.24 373.9L370.84 370.5ZM382.7 368.5L386.1 371.9L382.7 375.3L379.3 371.9ZM391.16 368.5L394.56 371.9L391.16 375.3L387.76 371.9ZM399.62 369.1L403.02 372.5L399.62 375.9L396.22 372.5ZM408.08 369.6L411.48 373L408.08 376.4L404.68 373ZM416.54 369.5L419.94 372.9L416.54 376.3L413.14 372.9ZM425 369.8L428.4 373.2L425 376.6L421.6 373.2ZM433.46 370.1L436.86 373.5L433.46 376.9L430.06 373.5ZM441.92 370.6L445.32 374L441.92 377.4L438.52 374ZM450.38 370.6L453.78 374L450.38 377.4L446.98 374ZM458.84 371.1L462.24 374.5L458.84 377.9L455.44 374.5ZM467.3 371.1L470.7 374.5L467.3 377.9L463.9 374.5ZM475.76 371.4L479.16 374.8L475.76 378.2L472.36 374.8ZM484.22 371.6L487.62 375L484.22 378.4L480.82 375ZM492.68 371.6L496.08 375L492.68 378.4L489.28 375ZM501.14 372.1L504.54 375.5L501.14 378.9L497.74 375.5ZM509.6 372.1L513 375.5L509.6 378.9L506.2 375.5ZM518.06 372.6L521.46 376L518.06 379.4L514.66 376ZM526.52 372.6L529.92 376L526.52 379.4L523.12 376ZM534.98 373.1L538.38 376.5L534.98 379.9L531.58 376.5ZM543.44 373.1L546.84 376.5L543.44 379.9L540.04 376.5ZM551.9 373.6L555.3 377L551.9 380.4L548.5 377ZM560.36 373.6L563.76 377L560.36 380.4L556.96 377ZM568.82 373.6L572.22 377L568.82 380.4L565.42 377ZM577.28 374.1L580.68 377.5L577.28 380.9L573.88 377.5ZM585.74 374.6L589.14 378L585.74 381.4L582.34 378ZM594.2 374.6L597.6 378L594.2 381.4L590.8 378ZM602.66 375.1L606.06 378.5L602.66 381.9L599.26 378.5ZM611.12 375.1L614.52 378.5L611.12 381.9L607.72 378.5ZM619.58 375.6L622.98 379L619.58 382.4L616.18 379ZM628.04 375.6L631.44 379L628.04 382.4L624.64 379ZM636.5 376.1L639.9 379.5L636.5 382.9L633.1 379.5ZM644.96 376.1L648.36 379.5L644.96 382.9L641.56 379.5ZM653.42 376.6L656.82 380L653.42 383.4L650.02 380ZM661.88 376.6L665.28 380L661.88 383.4L658.48 380ZM670.34 376.6L673.74 380L670.34 383.4L666.94 380Z" fill="#6a8048" stroke="#56693a" stroke-width="0.5"/>
<polyline points="44.3,249.5 52.76,314 61.22,272.7 69.68,265 78.14,316 86.6,293.8 95.06,308.7 103.52,310 111.98,351.6 120.44,331.6 128.9,289.6 137.36,304.2 145.82,343 154.28,337.2 162.74,304.5 171.2,334.6 179.66,356 188.12,339.3 196.58,338.9 205.04,327.5 213.5,347.8 221.96,350.7 230.42,348.1 238.88,359.5 247.34,359.5 255.8,355.1 264.26,355.1 272.72,363.9 281.18,345.3 289.64,350.4 298.1,352.5 306.56,352.5 315.02,361.8 323.48,353.8 331.94,367.1 340.4,369 348.86,369 357.32,366.1 365.78,352.9 374.24,359.2 382.7,348.1 391.16,346.6 399.62,367 408.08,370.9 416.54,354.7 425,365.2 433.46,374 441.92,371.5 450.38,370 458.84,374.7 467.3,363.9 475.76,354.7 484.22,370.3 492.68,363.9 501.14,370.3 509.6,372.2 518.06,374 526.52,369.5 534.98,374.5 543.44,370 551.9,376 560.36,370.5 568.82,371 577.28,375.5 585.74,373 594.2,379 602.66,379 611.12,376 619.58,373.8 628.04,373.8 636.5,379 644.96,377.2 653.42,379.3 661.88,379.3 670.34,380.5" fill="none" stroke="#b0272e" stroke-width="1.75" stroke-linejoin="round"/>
<path d="M40.55 245.75h7.5v7.5h-7.5ZM49.01 310.25h7.5v7.5h-7.5ZM57.47 268.95h7.5v7.5h-7.5ZM65.93 261.25h7.5v7.5h-7.5ZM74.39 312.25h7.5v7.5h-7.5ZM82.85 290.05h7.5v7.5h-7.5ZM91.31 304.95h7.5v7.5h-7.5ZM99.77 306.25h7.5v7.5h-7.5ZM108.23 347.85h7.5v7.5h-7.5ZM116.69 327.85h7.5v7.5h-7.5ZM125.15 285.85h7.5v7.5h-7.5ZM133.61 300.45h7.5v7.5h-7.5ZM142.07 339.25h7.5v7.5h-7.5ZM150.53 333.45h7.5v7.5h-7.5ZM158.99 300.75h7.5v7.5h-7.5ZM167.45 330.85h7.5v7.5h-7.5ZM175.91 352.25h7.5v7.5h-7.5ZM184.37 335.55h7.5v7.5h-7.5ZM192.83 335.15h7.5v7.5h-7.5ZM201.29 323.75h7.5v7.5h-7.5ZM209.75 344.05h7.5v7.5h-7.5ZM218.21 346.95h7.5v7.5h-7.5ZM226.67 344.35h7.5v7.5h-7.5ZM235.13 355.75h7.5v7.5h-7.5ZM243.59 355.75h7.5v7.5h-7.5ZM252.05 351.35h7.5v7.5h-7.5ZM260.51 351.35h7.5v7.5h-7.5ZM268.97 360.15h7.5v7.5h-7.5ZM277.43 341.55h7.5v7.5h-7.5ZM285.89 346.65h7.5v7.5h-7.5ZM294.35 348.75h7.5v7.5h-7.5ZM302.81 348.75h7.5v7.5h-7.5ZM311.27 358.05h7.5v7.5h-7.5ZM319.73 350.05h7.5v7.5h-7.5ZM328.19 363.35h7.5v7.5h-7.5ZM336.65 365.25h7.5v7.5h-7.5ZM345.11 365.25h7.5v7.5h-7.5ZM353.57 362.35h7.5v7.5h-7.5ZM362.03 349.15h7.5v7.5h-7.5ZM370.49 355.45h7.5v7.5h-7.5ZM378.95 344.35h7.5v7.5h-7.5ZM387.41 342.85h7.5v7.5h-7.5ZM395.87 363.25h7.5v7.5h-7.5ZM404.33 367.15h7.5v7.5h-7.5ZM412.79 350.95h7.5v7.5h-7.5ZM421.25 361.45h7.5v7.5h-7.5ZM429.71 370.25h7.5v7.5h-7.5ZM438.17 367.75h7.5v7.5h-7.5ZM446.63 366.25h7.5v7.5h-7.5ZM455.09 370.95h7.5v7.5h-7.5ZM463.55 360.15h7.5v7.5h-7.5ZM472.01 350.95h7.5v7.5h-7.5ZM480.47 366.55h7.5v7.5h-7.5ZM488.93 360.15h7.5v7.5h-7.5ZM497.39 366.55h7.5v7.5h-7.5ZM505.85 368.45h7.5v7.5h-7.5ZM514.31 370.25h7.5v7.5h-7.5ZM522.77 365.75h7.5v7.5h-7.5ZM531.23 370.75h7.5v7.5h-7.5ZM539.69 366.25h7.5v7.5h-7.5ZM548.15 372.25h7.5v7.5h-7.5ZM556.61 366.75h7.5v7.5h-7.5ZM565.07 367.25h7.5v7.5h-7.5ZM573.53 371.75h7.5v7.5h-7.5ZM581.99 369.25h7.5v7.5h-7.5ZM590.45 375.25h7.5v7.5h-7.5ZM598.91 375.25h7.5v7.5h-7.5ZM607.37 372.25h7.5v7.5h-7.5ZM615.83 370.05h7.5v7.5h-7.5ZM624.29 370.05h7.5v7.5h-7.5ZM632.75 375.25h7.5v7.5h-7.5ZM641.21 373.45h7.5v7.5h-7.5ZM649.67 375.55h7.5v7.5h-7.5ZM658.13 375.55h7.5v7.5h-7.5ZM666.59 376.75h7.5v7.5h-7.5Z" fill="#b0272e" stroke="#8c1c24" stroke-width="0.5"/>
<polyline points="44.3,333.4 52.76,346.7 61.22,349.2 69.68,351.1 78.14,358.7 86.6,358.7 95.06,329.3 103.52,369 111.98,372.8 120.44,352.5 128.9,367.7 137.36,362.3 145.82,361.8 154.28,370.8 162.74,368.7 171.2,361.5 179.66,371 188.12,365.4 196.58,353.1 205.04,368.6 213.5,350.9 221.96,373.4 230.42,376.7 238.88,371.9 247.34,374.4 255.8,371.3 264.26,377.6 272.72,377 281.18,377.5 289.64,378.2 298.1,361.8 306.56,369.4 315.02,370.6 323.48,369.4 331.94,377.6 340.4,377.5 348.86,377 357.32,377 365.78,366.8 374.24,377 382.7,377.5 391.16,373.2 399.62,371.9 408.08,377 416.54,377 425,377 433.46,377.6 441.92,377.5 450.38,377 458.84,378 467.3,374.4 475.76,378 484.22,378 492.68,375 501.14,378 509.6,378.5 518.06,378.5 526.52,378 534.98,378.5 543.44,378 551.9,379 560.36,378 568.82,378 577.28,379 585.74,379 594.2,379.5 602.66,379.5 611.12,380 619.58,380 628.04,380 636.5,380.3 644.96,380.3 653.42,380.3 661.88,380.3 670.34,380.3" fill="none" stroke="#3566a0" stroke-width="1.75" stroke-linejoin="round"/>
<path d="M44.3 329.4L48 336.5L40.6 336.5ZM52.76 342.7L56.46 349.8L49.06 349.8ZM61.22 345.2L64.92 352.3L57.52 352.3ZM69.68 347.1L73.38 354.2L65.98 354.2ZM78.14 354.7L81.84 361.8L74.44 361.8ZM86.6 354.7L90.3 361.8L82.9 361.8ZM95.06 325.3L98.76 332.4L91.36 332.4ZM103.52 365L107.22 372.1L99.82 372.1ZM111.98 368.8L115.68 375.9L108.28 375.9ZM120.44 348.5L124.14 355.6L116.74 355.6ZM128.9 363.7L132.6 370.8L125.2 370.8ZM137.36 358.3L141.06 365.4L133.66 365.4ZM145.82 357.8L149.52 364.9L142.12 364.9ZM154.28 366.8L157.98 373.9L150.58 373.9ZM162.74 364.7L166.44 371.8L159.04 371.8ZM171.2 357.5L174.9 364.6L167.5 364.6ZM179.66 367L183.36 374.1L175.96 374.1ZM188.12 361.4L191.82 368.5L184.42 368.5ZM196.58 349.1L200.28 356.2L192.88 356.2ZM205.04 364.6L208.74 371.7L201.34 371.7ZM213.5 346.9L217.2 354L209.8 354ZM221.96 369.4L225.66 376.5L218.26 376.5ZM230.42 372.7L234.12 379.8L226.72 379.8ZM238.88 367.9L242.58 375L235.18 375ZM247.34 370.4L251.04 377.5L243.64 377.5ZM255.8 367.3L259.5 374.4L252.1 374.4ZM264.26 373.6L267.96 380.7L260.56 380.7ZM272.72 373L276.42 380.1L269.02 380.1ZM281.18 373.5L284.88 380.6L277.48 380.6ZM289.64 374.2L293.34 381.3L285.94 381.3ZM298.1 357.8L301.8 364.9L294.4 364.9ZM306.56 365.4L310.26 372.5L302.86 372.5ZM315.02 366.6L318.72 373.7L311.32 373.7ZM323.48 365.4L327.18 372.5L319.78 372.5ZM331.94 373.6L335.64 380.7L328.24 380.7ZM340.4 373.5L344.1 380.6L336.7 380.6ZM348.86 373L352.56 380.1L345.16 380.1ZM357.32 373L361.02 380.1L353.62 380.1ZM365.78 362.8L369.48 369.9L362.08 369.9ZM374.24 373L377.94 380.1L370.54 380.1ZM382.7 373.5L386.4 380.6L379 380.6ZM391.16 369.2L394.86 376.3L387.46 376.3ZM399.62 367.9L403.32 375L395.92 375ZM408.08 373L411.78 380.1L404.38 380.1ZM416.54 373L420.24 380.1L412.84 380.1ZM425 373L428.7 380.1L421.3 380.1ZM433.46 373.6L437.16 380.7L429.76 380.7ZM441.92 373.5L445.62 380.6L438.22 380.6ZM450.38 373L454.08 380.1L446.68 380.1ZM458.84 374L462.54 381.1L455.14 381.1ZM467.3 370.4L471 377.5L463.6 377.5ZM475.76 374L479.46 381.1L472.06 381.1ZM484.22 374L487.92 381.1L480.52 381.1ZM492.68 371L496.38 378.1L488.98 378.1ZM501.14 374L504.84 381.1L497.44 381.1ZM509.6 374.5L513.3 381.6L505.9 381.6ZM518.06 374.5L521.76 381.6L514.36 381.6ZM526.52 374L530.22 381.1L522.82 381.1ZM534.98 374.5L538.68 381.6L531.28 381.6ZM543.44 374L547.14 381.1L539.74 381.1ZM551.9 375L555.6 382.1L548.2 382.1ZM560.36 374L564.06 381.1L556.66 381.1ZM568.82 374L572.52 381.1L565.12 381.1ZM577.28 375L580.98 382.1L573.58 382.1ZM585.74 375L589.44 382.1L582.04 382.1ZM594.2 375.5L597.9 382.6L590.5 382.6ZM602.66 375.5L606.36 382.6L598.96 382.6ZM611.12 376L614.82 383.1L607.42 383.1ZM619.58 376L623.28 383.1L615.88 383.1ZM628.04 376L631.74 383.1L624.34 383.1ZM636.5 376.3L640.2 383.4L632.8 383.4ZM644.96 376.3L648.66 383.4L641.26 383.4ZM653.42 376.3L657.12 383.4L649.72 383.4ZM661.88 376.3L665.58 383.4L658.18 383.4ZM670.34 376.3L674.04 383.4L666.64 383.4Z" fill="#3566a0" stroke="#2a5384" stroke-width="0.5"/>
<text transform="translate(47.2 387.8) rotate(-90)" text-anchor="end">EP300</text>
<text transform="translate(55.66 387.8) rotate(-90)" text-anchor="end">CTCF</text>
<text transform="translate(64.12 387.8) rotate(-90)" text-anchor="end">CEBPB</text>
<text transform="translate(72.58 387.8) rotate(-90)" text-anchor="end">FOS</text>
<text transform="translate(81.04 387.8) rotate(-90)" text-anchor="end">RAD21</text>
<text transform="translate(89.5 387.8) rotate(-90)" text-anchor="end">MYC</text>
<text transform="translate(97.96 387.8) rotate(-90)" text-anchor="end">FOXA1</text>
<text transform="translate(106.42 387.8) rotate(-90)" text-anchor="end">MAX</text>
<text transform="translate(114.88 387.8) rotate(-90)" text-anchor="end">RUNX3</text>
<text transform="translate(123.34 387.8) rotate(-90)" text-anchor="end">GATA2</text>
<text transform="translate(131.8 387.8) rotate(-90)" text-anchor="end">STAT3</text>
<text transform="translate(140.26 387.8) rotate(-90)" text-anchor="end">JUN</text>
<text transform="translate(148.72 387.8) rotate(-90)" text-anchor="end">MAFK</text>
<text transform="translate(157.18 387.8) rotate(-90)" text-anchor="end">SMC3</text>
<text transform="translate(165.64 387.8) rotate(-90)" text-anchor="end">FOSL2</text>
<text transform="translate(174.1 387.8) rotate(-90)" text-anchor="end">SP1</text>
<text transform="translate(182.56 387.8) rotate(-90)" text-anchor="end">EBF1</text>
<text transform="translate(191.02 387.8) rotate(-90)" text-anchor="end">USF1</text>
<text transform="translate(199.48 387.8) rotate(-90)" text-anchor="end">FOXA2</text>
<text transform="translate(207.94 387.8) rotate(-90)" text-anchor="end">TCF12</text>
<text transform="translate(216.4 387.8) rotate(-90)" text-anchor="end">GATA3</text>
<text transform="translate(224.86 387.8) rotate(-90)" text-anchor="end">BHLHE40</text>
<text transform="translate(233.32 387.8) rotate(-90)" text-anchor="end">ELF1</text>
<text transform="translate(241.78 387.8) rotate(-90)" text-anchor="end">BATF</text>
<text transform="translate(250.24 387.8) rotate(-90)" text-anchor="end">ZNF143</text>
<text transform="translate(258.7 387.8) rotate(-90)" text-anchor="end">MAFF</text>
<text transform="translate(267.16 387.8) rotate(-90)" text-anchor="end">MXI1</text>
<text transform="translate(275.62 387.8) rotate(-90)" text-anchor="end">PAX5</text>
<text transform="translate(284.08 387.8) rotate(-90)" text-anchor="end">CHD2</text>
<text transform="translate(292.54 387.8) rotate(-90)" text-anchor="end">TAF1</text>
<text transform="translate(301 387.8) rotate(-90)" text-anchor="end">ESR1</text>
<text transform="translate(309.46 387.8) rotate(-90)" text-anchor="end">HNF4A</text>
<text transform="translate(317.92 387.8) rotate(-90)" text-anchor="end">TAL1</text>
<text transform="translate(326.38 387.8) rotate(-90)" text-anchor="end">HNF4G</text>
<text transform="translate(334.84 387.8) rotate(-90)" text-anchor="end">POU2F2</text>
<text transform="translate(343.3 387.8) rotate(-90)" text-anchor="end">MEF2A</text>
<text transform="translate(351.76 387.8) rotate(-90)" text-anchor="end">ZNF263</text>
<text transform="translate(360.22 387.8) rotate(-90)" text-anchor="end">BCL11A</text>
<text transform="translate(368.68 387.8) rotate(-90)" text-anchor="end">RXRA</text>
<text transform="translate(377.14 387.8) rotate(-90)" text-anchor="end">KAP1</text>
<text transform="translate(385.6 387.8) rotate(-90)" text-anchor="end">RFX5</text>
<text transform="translate(394.06 387.8) rotate(-90)" text-anchor="end">ATF3</text>
<text transform="translate(402.52 387.8) rotate(-90)" text-anchor="end">GATA1</text>
<text transform="translate(410.98 387.8) rotate(-90)" text-anchor="end">IRF4</text>
<text transform="translate(419.44 387.8) rotate(-90)" text-anchor="end">STAT1</text>
<text transform="translate(427.9 387.8) rotate(-90)" text-anchor="end">ZBTB7A</text>
<text transform="translate(436.36 387.8) rotate(-90)" text-anchor="end">SIN3A</text>
<text transform="translate(444.82 387.8) rotate(-90)" text-anchor="end">IRF1</text>
<text transform="translate(453.28 387.8) rotate(-90)" text-anchor="end">SRF</text>
<text transform="translate(461.74 387.8) rotate(-90)" text-anchor="end">EZH2</text>
<text transform="translate(470.2 387.8) rotate(-90)" text-anchor="end">ZNF217</text>
<text transform="translate(478.66 387.8) rotate(-90)" text-anchor="end">ZBTB33</text>
<text transform="translate(487.12 387.8) rotate(-90)" text-anchor="end">NFYB</text>
<text transform="translate(495.58 387.8) rotate(-90)" text-anchor="end">GTF2F1</text>
<text transform="translate(504.04 387.8) rotate(-90)" text-anchor="end">CCNT2</text>
<text transform="translate(512.5 387.8) rotate(-90)" text-anchor="end">SETDB1</text>
<text transform="translate(520.96 387.8) rotate(-90)" text-anchor="end">MEF2C</text>
<text transform="translate(529.42 387.8) rotate(-90)" text-anchor="end">E2F4</text>
<text transform="translate(537.88 387.8) rotate(-90)" text-anchor="end">PBX3</text>
<text transform="translate(546.34 387.8) rotate(-90)" text-anchor="end">E2F1</text>
<text transform="translate(554.8 387.8) rotate(-90)" text-anchor="end">CTCFL</text>
<text transform="translate(563.26 387.8) rotate(-90)" text-anchor="end">ETS1</text>
<text transform="translate(571.72 387.8) rotate(-90)" text-anchor="end">BRCA1</text>
<text transform="translate(580.18 387.8) rotate(-90)" text-anchor="end">HMGN3</text>
<text transform="translate(588.64 387.8) rotate(-90)" text-anchor="end">PRDM1</text>
<text transform="translate(597.1 387.8) rotate(-90)" text-anchor="end">SUZ12</text>
<text transform="translate(605.56 387.8) rotate(-90)" text-anchor="end">CTBP2</text>
<text transform="translate(614.02 387.8) rotate(-90)" text-anchor="end">STAT2</text>
<text transform="translate(622.48 387.8) rotate(-90)" text-anchor="end">NFYA</text>
<text transform="translate(630.94 387.8) rotate(-90)" text-anchor="end">SIX5</text>
<text transform="translate(639.4 387.8) rotate(-90)" text-anchor="end">NANOG</text>
<text transform="translate(647.86 387.8) rotate(-90)" text-anchor="end">NRF1</text>
<text transform="translate(656.32 387.8) rotate(-90)" text-anchor="end">SREBP1</text>
<text transform="translate(664.78 387.8) rotate(-90)" text-anchor="end">BDP1</text>
<text transform="translate(673.24 387.8) rotate(-90)" text-anchor="end">BRF1</text>
<text transform="translate(21.8 305) rotate(-90)" text-anchor="middle">TF ChIP site frequency (per 10 kb)</text>
<text x="44.7" y="243">p300</text>
<text x="53.8" y="255.8">CEBPB</text>
<text x="74.1" y="264">Fos</text>
<text x="81" y="284.3">Myc</text>
<text x="94.2" y="294">FoxA1</text>
<text x="103" y="304">Max</text>
<text x="121" y="282.8">STAT3</text>
<text x="137.4" y="296.7">Jun</text>
<text x="155" y="297.9">FosL2</text>
<text x="117.8" y="347.1">GATA2</text>
<text x="178" y="327.5">FoxA2</text>
<text x="201.7" y="320.3">Tcf12</text>
<text x="214.8" y="335.4">GATA3</text>
<text x="246.1" y="338.6">MafF</text>
<text x="258.1" y="347.1">Mxi1</text>
<text x="273.8" y="336">Chd2</text>
<text x="297.8" y="334.2">HNF4A</text>
<text x="313" y="345.3">HNF4G</text>
<text x="356.6" y="343.7">RARα</text>
<text x="371.8" y="329.1">RFX5</text>
<text x="391.9" y="340.3">ATF3</text>
<text x="414" y="348.1">STAT1</text>
<text x="445.7" y="356.3">Znf217</text>
<text x="465.8" y="345.6">ZBTB33</text>
<text x="522.2" y="351.9">E2F4</text>
<text x="548.8" y="351.5">ETS1</text>
<text x="565.9" y="359.4">BRCA1</text>
<text x="606.3" y="357.6">NFYA</text>
<text x="630" y="364.6">Six5</text>
<path d="M507 279.6H535.9" stroke="#6a8048" stroke-width="1.8"/>
<path d="M520.75 276.7l2.9 2.9l-2.9 2.9l-2.9 -2.9Z" fill="#6a8048"/>
<text x="538.8" y="281.8">All K4me1 regions</text>
<path d="M507 295.4H535.9" stroke="#b0272e" stroke-width="1.8"/>
<rect x="517.9" y="292.55" width="5.7" height="5.7" fill="#b0272e"/>
<text x="538.8" y="297.7">Predicted enhancer gain</text>
<path d="M507 311.6H535.9" stroke="#3566a0" stroke-width="1.8"/>
<path d="M520.75 308.2l3.1 6h-6.2Z" fill="#3566a0"/>
<text x="538.8" y="314">Predicted enhancer loss</text>
<text x="0.3" y="449.6" font-size="13.5" fill="#000" style="stroke:#000" font-weight="bold">c</text>
<text x="136.5" y="466.3" text-anchor="middle">Fraction of regions overlapping</text>
<text x="138" y="476.3" text-anchor="middle">with hESC regions</text>
<path d="M66.5 493.4H205.2M69.7 493.4V613.9" fill="none" stroke="#1a1a1a" stroke-width="1.3"/>
<path d="M69.6 493.4v-2.8M137.2 493.4v-2.8M204.8 493.4v-2.8M67.2 523.5H70M67.2 553.6H70M67.2 583.7H70M67.2 613.8H70" stroke="#1a1a1a" stroke-width="1.1"/>
<text x="69.6" y="487.8" text-anchor="middle">0</text>
<text x="137.6" y="487.8" text-anchor="middle">0.2</text>
<text x="205" y="487.8" text-anchor="middle">0.4</text>
<rect x="70.6" y="498.7" width="124.7" height="6.3" fill="#a3282c"/>
<rect x="70.6" y="505.2" width="13" height="6.3" fill="#3c6996"/>
<rect x="70.6" y="511.7" width="93.6" height="6.3" fill="#a6ba7a"/>
<rect x="70.6" y="529.2" width="42.9" height="6.3" fill="#a3282c"/>
<rect x="70.6" y="535.7" width="24.2" height="6.3" fill="#3c6996"/>
<rect x="70.6" y="542.2" width="106" height="6.3" fill="#a6ba7a"/>
<rect x="70.6" y="559.7" width="7.9" height="6.3" fill="#a3282c"/>
<rect x="70.6" y="566.2" width="30.5" height="6.3" fill="#3c6996"/>
<rect x="70.6" y="572.7" width="7.9" height="6.3" fill="#a6ba7a"/>
<rect x="70.6" y="590.2" width="7.9" height="6.3" fill="#a3282c"/>
<rect x="70.6" y="596.7" width="30.5" height="6.3" fill="#3c6996"/>
<rect x="70.6" y="603.2" width="3.2" height="6.3" fill="#a6ba7a"/>
<text x="62.2" y="509.8" text-anchor="end">All promoters</text>
<text x="62.2" y="541" text-anchor="end">Altered prmoters</text>
<text x="62.2" y="566.4" text-anchor="end">Allpredicted</text>
<text x="62.2" y="576" text-anchor="end">enhancers</text>
<text x="62.2" y="597.3" text-anchor="end">Altered predicted</text>
<text x="62.2" y="606.9" text-anchor="end">enhancers</text>
<text x="128" y="572.6">hESC region</text>
<rect x="129.2" y="577.7" width="5.8" height="6.4" fill="#a3282c"/>
<text x="137.2" y="584.2">K4me3 only</text>
<rect x="129.2" y="590.7" width="5.8" height="6.4" fill="#3c6996"/>
<text x="137.2" y="597.2">K27me3 only</text>
<rect x="129.2" y="603.7" width="5.8" height="6.4" fill="#a6ba7a"/>
<text x="137.2" y="610.2">Bivalent</text>
<text x="216.8" y="449.6" font-size="13.5" fill="#000" style="stroke:#000" font-weight="bold">d</text>
<text x="352" y="449.9" text-anchor="end">50 kb</text>
<path d="M358.2 446.8H444.4M358.2 443V450.6M444.4 443V450.6" fill="none" stroke="#333" stroke-width="1"/>
<text x="279.6" y="463.9">chr18:</text>
<text x="352.3" y="463.9" text-anchor="end">55100000</text>
<text x="437.8" y="463.9" text-anchor="end">55150000</text>
<path d="M355.2 457.6V464.6M440.4 457.6V464.6" stroke="#222" stroke-width="1.3"/>
<text x="355.3" y="481" text-anchor="end">RefSeq transcript</text>
<text x="355.3" y="494" text-anchor="end">Predicted isoform</text>
<rect x="358.7" y="474.8" width="2.9" height="6.1" fill="#a3342c"/>
<rect x="429.9" y="474.8" width="24.6" height="6.1" fill="#a3342c"/>
<polyline points="361.5,479.6 396.1,485.4 429.9,479.6" fill="none" stroke="#333" stroke-width="0.8"/>
<rect x="358.7" y="488.0" width="2.9" height="5.6" fill="#a3342c"/>
<rect x="395.4" y="488.0" width="1.9" height="5.6" fill="#a3342c"/>
<polyline points="361.5,493.4 378.5,497.7 395.6,493.2" fill="none" stroke="#333" stroke-width="0.8"/>
<text x="218.2" y="497.1" fill="#975050" style="stroke:#975050">RNAseq</text>
<text x="501.4" y="490.3">Tag count</text>
<text x="220.5" y="509">2000639N</text>
<text x="220.5" y="525.2">2000639C</text>
<text x="218.2" y="543.2" fill="#975050" style="stroke:#975050">ChIPseq</text>
<text x="220.5" y="556">2000639N K4me3</text>
<text x="220.5" y="574.3">2000639C K4me3</text>
<text x="218.2" y="592.6" fill="#975050" style="stroke:#975050">ENCODE/ Broad ChIP-seq</text>
<text x="220.5" y="606.2" fill="#489360" style="stroke:#489360">H1-hESC K4me3</text>
<text x="220.5" y="626.4" fill="#489360" style="stroke:#489360">H1-hESC K27me3</text>
<text x="316.6" y="541" fill="#35359a" style="stroke:#35359a">ONECUT2</text>
<path d="M294.6 512.6H507.7" stroke="#111" stroke-width="1.5"/>
<path d="M294.6 530.1H507.7" stroke="#111" stroke-width="1.5"/>
<path d="M294.6 561.1H507.7" stroke="#111" stroke-width="1.5"/>
<path d="M294.6 579.9H507.7" stroke="#111" stroke-width="1.5"/>
<path d="M294.6 609H507.7" stroke="#111" stroke-width="1.5"/>
<path d="M294.6 628H507.7" stroke="#111" stroke-width="1.5"/>
<path d="M512.2 498.1H510.6V513H512.2" fill="none" stroke="#333" stroke-width="0.8"/>
<text x="514.2" y="501.2">6</text>
<text x="514.2" y="513.6">2</text>
<text x="520" y="507.6">ln(1+x)</text>
<path d="M512.2 516.2H510.6V530.8H512.2" fill="none" stroke="#333" stroke-width="0.8"/>
<text x="514.2" y="520.6">6</text>
<text x="514.2" y="532">2</text>
<text x="520" y="525">ln(1+x)</text>
<path d="M512.2 546.6H510.6V561.5H512.2" fill="none" stroke="#333" stroke-width="0.8"/>
<text x="514.2" y="549">80</text>
<text x="514.2" y="562.1">0</text>
<path d="M512.2 565.9H510.6V580.5H512.2" fill="none" stroke="#333" stroke-width="0.8"/>
<text x="514.2" y="569.8">80</text>
<text x="514.2" y="582.2">0</text>
<path d="M512.2 594.6H510.6V609.6H512.2" fill="none" stroke="#333" stroke-width="0.8"/>
<text x="514.2" y="597">40</text>
<text x="514.2" y="611">0</text>
<path d="M512.2 613.5H510.6V628.8H512.2" fill="none" stroke="#333" stroke-width="0.8"/>
<text x="514.2" y="617.1">200</text>
<text x="514.2" y="630.2">0</text>
<path d="M360 537.7H429.3" stroke="#35359a" stroke-width="1.6"/>
<rect x="358.8" y="533.3" width="2.3" height="9.0" fill="#35359a"/>
<rect x="429.2" y="535.5" width="24.9" height="4.9" fill="#35359a"/>
<rect x="428.6" y="533.6" width="1.0" height="8.4" fill="#35359a"/>
<path d="M364.4 535.3L366.7 537.7L364.4 540.1M369.75 535.3L372.05 537.7L369.75 540.1M375.1 535.3L377.4 537.7L375.1 540.1M380.45 535.3L382.75 537.7L380.45 540.1M385.8 535.3L388.1 537.7L385.8 540.1M391.15 535.3L393.45 537.7L391.15 540.1M396.5 535.3L398.8 537.7L396.5 540.1M401.85 535.3L404.15 537.7L401.85 540.1M407.2 535.3L409.5 537.7L407.2 540.1M412.55 535.3L414.85 537.7L412.55 540.1M417.9 535.3L420.2 537.7L417.9 540.1M423.25 535.3L425.55 537.7L423.25 540.1" fill="none" stroke="#35359a" stroke-width="1.2"/>
<path d="M359.6 530.1V523.2Q360.6 521.6 361.6 523.2V530.1ZM365.0 530.1V526.4Q365.7 525.4 366.5 526.4V530.1ZM395.4 530.1V522.2Q396.2 520.6 397.1 522.2V530.1ZM429.1 530.1L429.1 521.4L429.6 520.6L430.4 520.2L431.6 520.1L432.3 520.6L433.3 521.9L434.4 522.2L435.3 522L436.2 520.9L437.2 520.4L438 519.7L438.8 519.3L439.6 519.8L440.4 520.4L441.3 519.4L442.3 518.3L443.2 518.3L443.8 518.6L444.4 517.6L445.1 517.1L445.9 517.5L446.6 516.6L447.5 516.5L448.3 516.7L449 517.8L449.7 518.8L450.3 518.3L451 516.6L451.9 516L452.8 515.5L453.9 515.5L453.9 530.1Z" fill="#000"/>
<path d="M356.1 561.1V557.9H359V561.1ZM356.6 561.1V555.4H357.4V561.1ZM356.2 561.1V557.39H357.8V561.1ZM357.75 561.1V555.9H358.45V561.1ZM357.35 561.1V557.72H358.85V561.1ZM386.45 561.1V556.9H387.15V561.1ZM386.05 561.1V558.37H387.55V561.1ZM398.05 561.1V558.1H398.75V561.1ZM397.65 561.1V559.15H399.15V561.1ZM333.25 561.1V559.3H333.75V561.1ZM332.85 561.1V559.93H334.15V561.1ZM363.98 561.1V560.5H364.68V561.1ZM433 561.1V560.61H433.7V561.1ZM408.72 561.1V560.22H409.42V561.1ZM307.89 561.1V560.04H308.59V561.1ZM303.56 561.1V560.14H304.26V561.1ZM310.39 561.1V560.58H311.09V561.1ZM385.22 561.1V559.63H385.92V561.1ZM321.77 561.1V560.41H322.47V561.1ZM428.04 561.1V559.47H428.74V561.1ZM417.42 561.1V560.18H418.12V561.1ZM501.64 561.1V560.64H502.34V561.1ZM476.79 561.1V560.32H477.49V561.1ZM326.09 561.1V560.55H326.79V561.1ZM360.74 561.1V559.64H361.44V561.1ZM333.78 561.1V559.94H334.48V561.1ZM430.46 561.1V560.22H431.16V561.1ZM411.22 561.1V560.62H411.92V561.1ZM308.23 561.1V560.43H308.93V561.1ZM439.21 561.1V560.14H439.91V561.1ZM361.94 561.1V559.94H362.64V561.1ZM391.27 561.1V560.31H391.97V561.1ZM463.26 561.1V559.79H463.96V561.1ZM347.15 561.1V559.95H347.85V561.1ZM406.47 561.1V559.56H407.17V561.1ZM449.56 561.1V560.33H450.26V561.1ZM502.47 561.1V560.55H503.17V561.1ZM383.87 561.1V559.72H384.57V561.1ZM327.72 561.1V560.06H328.42V561.1ZM303.92 561.1V559.83H304.62V561.1ZM456.97 561.1V559.96H457.67V561.1ZM480.38 561.1V560.29H481.08V561.1ZM442.36 561.1V559.93H443.06V561.1ZM418.01 561.1V560.11H418.71V561.1ZM472.88 561.1V559.47H473.58V561.1ZM395.68 561.1V559.84H396.38V561.1ZM308.45 561.1V559.79H309.15V561.1ZM432.19 561.1V559.41H432.89V561.1ZM469.08 561.1V560.33H469.78V561.1ZM377.05 561.1V559.83H377.75V561.1ZM300.41 561.1V560.1H301.11V561.1ZM331.11 561.1V560.55H331.81V561.1ZM308.09 561.1V559.7H308.79V561.1ZM322.94 561.1V560.38H323.64V561.1ZM378.14 561.1V559.57H378.84V561.1ZM312.65 561.1V560.12H313.35V561.1ZM351.35 561.1V559.5H352.05V561.1ZM360.95 561.1V558.9H361.65V561.1ZM363.85 561.1V559.5H364.55V561.1ZM372.05 561.1V559.3H372.75V561.1ZM375.85 561.1V559.1H376.55V561.1Z" fill="#922c2c"/>
<path d="M349 579.9V577.9H368.6V579.9ZM357.5 579.9V570.9H360.4V579.9ZM362.2 579.9V572.9H363.6V579.9ZM365 579.9V573.4H367.4V579.9ZM367.4 579.9V576.4H369V579.9ZM349.85 579.9V570.4H350.75V579.9ZM349.45 579.9V573.73H351.15V579.9ZM352 579.9V571.5H352.8V579.9ZM351.6 579.9V574.44H353.2V579.9ZM356 579.9V564.8H357V579.9ZM355.6 579.9V570.08H357.4V579.9ZM358.25 579.9V568.9H358.95V579.9ZM357.85 579.9V572.75H359.35V579.9ZM359.25 579.9V570.4H359.95V579.9ZM358.85 579.9V573.73H360.35V579.9ZM360.95 579.9V564.8H361.85V579.9ZM360.55 579.9V570.08H362.25V579.9ZM362.55 579.9V571.3H363.25V579.9ZM362.15 579.9V574.31H363.65V579.9ZM363.85 579.9V568.9H364.75V579.9ZM363.45 579.9V572.75H365.15V579.9ZM365.95 579.9V570.9H366.85V579.9ZM365.55 579.9V574.05H367.25V579.9ZM411.58 579.9V578.44H412.28V579.9ZM468.52 579.9V578.46H469.22V579.9ZM354.4 579.9V579H355.1V579.9ZM371.35 579.9V578.44H372.05V579.9ZM497.73 579.9V579.32H498.43V579.9ZM332.83 579.9V579.22H333.53V579.9ZM344.88 579.9V578.92H345.58V579.9ZM419.96 579.9V579.18H420.66V579.9ZM296.51 579.9V579H297.21V579.9ZM373.56 579.9V578.82H374.26V579.9ZM496.75 579.9V578.67H497.45V579.9ZM404.42 579.9V578.76H405.12V579.9ZM438.33 579.9V579.44H439.03V579.9ZM485.45 579.9V578.56H486.15V579.9ZM480.17 579.9V578.54H480.87V579.9ZM378.44 579.9V579.02H379.14V579.9ZM317.5 579.9V578.74H318.2V579.9ZM308.78 579.9V579.42H309.48V579.9ZM339.7 579.9V579.31H340.4V579.9ZM367.4 579.9V579.44H368.1V579.9ZM295.7 579.9V579.32H296.4V579.9ZM317.06 579.9V579.06H317.76V579.9ZM301.03 579.9V578.45H301.73V579.9ZM425.22 579.9V579.32H425.92V579.9ZM348.88 579.9V579.08H349.58V579.9ZM372.49 579.9V579.35H373.19V579.9ZM474.78 579.9V578.31H475.48V579.9ZM393.97 579.9V578.92H394.67V579.9ZM313.77 579.9V579.38H314.47V579.9ZM367.95 579.9V579.18H368.65V579.9ZM470.54 579.9V579.31H471.24V579.9ZM300.52 579.9V578.36H301.22V579.9ZM407.11 579.9V579.32H407.81V579.9ZM410.26 579.9V579.47H410.96V579.9ZM407.08 579.9V578.33H407.78V579.9ZM477.81 579.9V578.66H478.51V579.9ZM350.75 579.9V579.06H351.45V579.9ZM330.9 579.9V578.57H331.6V579.9ZM408.03 579.9V578.57H408.73V579.9ZM365.21 579.9V579.23H365.91V579.9ZM376.77 579.9V577.73H377.47V579.9ZM377.18 579.9V578.05H377.88V579.9ZM376.83 579.9V578.17H377.53V579.9ZM370.92 579.9V578.57H371.62V579.9ZM372.21 579.9V579.45H372.91V579.9ZM368.93 579.9V579H369.63V579.9ZM371.24 579.9V578.25H371.94V579.9ZM378.22 579.9V578.69H378.92V579.9ZM378.02 579.9V577.72H378.72V579.9ZM378.2 579.9V578.84H378.9V579.9Z" fill="#922c2c"/>
<path d="M344.4 609V607.2H369.9V609ZM345.6 609V601.6H348V609ZM349.7 609V604.6H351.8V609ZM356 609V604.6H357V609ZM357 609V605.5H361.9V609ZM364 609V605H366.4V609ZM366.4 609V603.5H369.9V609ZM344.55 609V595.6H345.45V609ZM344.15 609V600.29H345.85V609ZM357.4 609V594.2H358.4V609ZM357 609V599.38H358.8V609ZM362.4 609V596.6H363.4V609ZM362 609V600.94H363.8V609ZM367.2 609V602.2H368V609ZM366.8 609V604.58H368.4V609ZM378 609V606H378.6V609ZM377.6 609V607.05H379V609ZM342.17 609V608.4H342.87V609ZM337.16 609V608.42H337.86V609ZM427.33 609V607.79H428.03V609ZM472.98 609V608.17H473.68V609ZM433.43 609V607.88H434.13V609ZM313.54 609V608.01H314.24V609ZM487.61 609V607.9H488.31V609ZM453.93 609V608.17H454.63V609ZM333.32 609V607.89H334.02V609ZM365.81 609V607.88H366.51V609ZM500.67 609V608.24H501.37V609ZM380.34 609V607.75H381.04V609ZM448.58 609V608.45H449.28V609ZM322.46 609V608.46H323.16V609ZM486.57 609V607.87H487.27V609ZM326.49 609V607.86H327.19V609ZM502.49 609V608.01H503.19V609ZM369.59 609V608.11H370.29V609ZM323.29 609V608.59H323.99V609ZM500.51 609V608.02H501.21V609ZM406.76 609V607.76H407.46V609ZM387.18 609V607.82H387.88V609ZM469.97 609V608.41H470.67V609ZM348.79 609V608.34H349.49V609ZM346.4 609V608.07H347.1V609ZM350.38 609V608.22H351.08V609ZM323.31 609V607.78H324.01V609ZM370.3 609V608.19H371V609ZM418.74 609V607.79H419.44V609ZM384.4 609V607.77H385.1V609Z" fill="#44a05c"/>
<path d="M343 628V626.2H374V628ZM346.3 628V621.8H349.7V628ZM349.7 628V625.4H351.8V628ZM351.8 628V623.4H354.6V628ZM354.6 628V620.7H357.4V628ZM357.4 628V625.2H359.5V628ZM359.5 628V619H361.9V628ZM361.9 628V622.7H364V628ZM364 628V618.5H366.4V628ZM366.4 628V617.5H367.8V628ZM367.8 628V619.6H372V628ZM372 628V624.7H374V628ZM347.25 628V621.2H347.95V628ZM346.85 628V623.58H348.35V628ZM355.6 628V620.2H356.4V628ZM355.2 628V622.93H356.8V628ZM360.2 628V614.9H361.2V628ZM359.8 628V619.49H361.6V628ZM364.7 628V614.6H365.7V628ZM364.3 628V619.29H366.1V628ZM366.6 628V617H367.4V628ZM366.2 628V620.85H367.8V628ZM369.1 628V618.8H369.9V628ZM368.7 628V622.02H370.3V628ZM401.5 628V627.28H402.2V628ZM406.11 628V627.59H406.81V628ZM388.52 628V627.49H389.22V628ZM296.48 628V627.12H297.18V628ZM332.02 628V627.32H332.72V628ZM448.67 628V627.27H449.37V628ZM364.43 628V627.29H365.13V628ZM412.85 628V627.13H413.55V628ZM318.04 628V627.26H318.74V628ZM348.08 628V627.43H348.78V628ZM458.6 628V627.3H459.3V628ZM414.17 628V627.14H414.87V628ZM488.18 628V627.33H488.88V628ZM424.89 628V627.3H425.59V628ZM403.72 628V627.18H404.42V628ZM391.09 628V627.28H391.79V628ZM396.52 628V627.04H397.22V628ZM443.18 628V627.07H443.88V628ZM494.45 628V627.44H495.15V628ZM413.71 628V627.03H414.41V628ZM472.89 628V627.52H473.59V628ZM321.31 628V627.33H322.01V628ZM310.96 628V627.46H311.66V628ZM311.08 628V627.2H311.78V628ZM461.06 628V627.06H461.76V628Z" fill="#44a05c"/>
<text x="551.3" y="449.6" font-size="13.5" fill="#000" style="stroke:#000" font-weight="bold">e</text>
<rect x="595.5" y="463.0" width="88.4" height="127.9" fill="none" stroke="#333" stroke-width="1.1"/>
<text x="592.2" y="470.8" font-size="8.1" text-anchor="end">1.0</text>
<text x="592.2" y="500.45" font-size="8.1" text-anchor="end">0.5</text>
<text x="592.2" y="530.1" font-size="8.1" text-anchor="end">0</text>
<text x="592.2" y="559.75" font-size="8.1" text-anchor="end">−0.5</text>
<text x="592.2" y="589.4" font-size="8.1" text-anchor="end">−1.0</text>
<path d="M593 467.9H595.5M593 497.55H595.5M593 527.2H595.5M593 556.85H595.5M593 586.5H595.5M612.6 590.9V593.4M640.2 590.9V593.4M667.5 590.9V593.4" stroke="#333" stroke-width="1"/>
<text x="612" y="601.5" font-size="8.3" text-anchor="middle">All</text>
<text x="611" y="611.2" font-size="8.3" text-anchor="middle">promoters</text>
<text x="639.6" y="601.5" font-size="8.3" text-anchor="middle">Gain</text>
<text x="668.3" y="601.5" font-size="8.3" text-anchor="middle">Loss</text>
<text transform="translate(561.9 529.4) rotate(-90)" text-anchor="middle" font-size="8.2">Change in DNA methylation β-vale</text>
<text transform="translate(571.6 529.4) rotate(-90)" text-anchor="middle" font-size="8.2">(cancer vs. normal)</text>
<path d="M612.7 491.6V509.2M607.1 501.9H618.4M612.6 537.7V550.1M607 515.4H618" stroke="#222" stroke-width="0.9"/>
<circle cx="612.6" cy="554.6" r="0.6" fill="#222"/>
<rect x="601.4" y="509.3" width="22.3" height="5.6" fill="#2e2e90" stroke="#111" stroke-width="0.7"/>
<path d="M601.4 512.9H623.7" stroke="#111" stroke-width="0.8"/>
<path d="M640.2 542.7V549.4M634.4 546.2H645.9" stroke="#222" stroke-width="0.9"/>
<path d="M640.2 508.8V515.7" stroke="#666" stroke-width="1.4"/>
<rect x="629.1" y="539.1" width="22.5" height="3.6" fill="#2a682c" stroke="#111" stroke-width="0.7"/>
<path d="M629.1 540.2H651.6" stroke="#111" stroke-width="0.6"/>
<path d="M667.5 503.3V509.9M662.3 503.3H673.3M662.3 515.2H673.3" stroke="#222" stroke-width="0.9"/>
<circle cx="667.6" cy="498.8" r="0.7" fill="#222"/><circle cx="667.5" cy="539.8" r="0.6" fill="#222"/>
<rect x="656.2" y="509.9" width="22.4" height="4.6" fill="#a81e26" stroke="#111" stroke-width="0.7"/>
<path d="M656.2 513.6H678.6" stroke="#111" stroke-width="0.7"/>
</g></svg></body></html>
